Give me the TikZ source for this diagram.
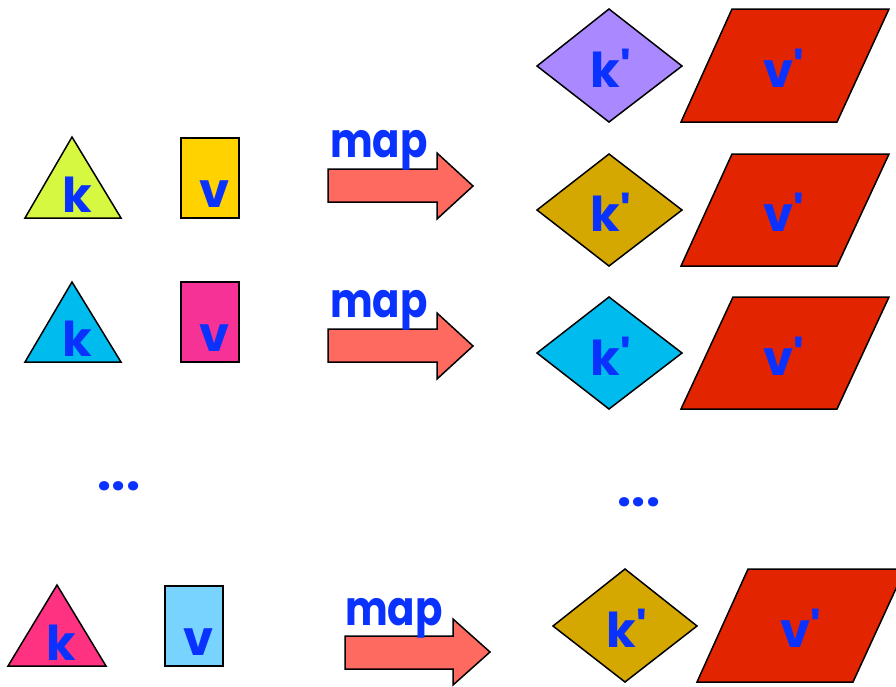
\documentclass[tikz,border=0pt]{standalone}
\usepackage{fontspec}
\setmainfont{Poppins}[Ligatures=TeXOff]
\newfontfamily\mapfont{Poppins}[Ligatures=TeXOff, FakeStretch=0.84]
\definecolor{tblue}{RGB}{10,50,255}
\definecolor{lime}{RGB}{214,248,64}
\definecolor{goldrect}{RGB}{255,210,0}
\definecolor{cyanc}{RGB}{0,188,238}
\definecolor{pinkrect}{RGB}{247,50,150}
\definecolor{pinktri}{RGB}{255,50,130}
\definecolor{lightblue}{RGB}{120,212,255}
\definecolor{arrowc}{RGB}{255,106,96}
\definecolor{lavender}{RGB}{170,136,255}
\definecolor{golddia}{RGB}{212,168,0}
\definecolor{redpar}{RGB}{227,36,0}
\begin{document}
\begin{tikzpicture}[x=1pt,y=-1pt,
  shp/.style={draw=black, line width=1.5pt, line join=miter},
  lbl/.style={text=tblue, font=\bfseries\fontsize{48}{48}\selectfont, inner sep=0pt, anchor=base},
  maplbl/.style={text=tblue, font=\mapfont\bfseries\fontsize{48}{48}\selectfont, inner sep=0pt, anchor=base},
  dots/.style={text=tblue, font=\bfseries\fontsize{50}{50}\selectfont, inner sep=0pt, anchor=base}]
\useasboundingbox (0,0) rectangle (896,686);
\clip (0,0) rectangle (896,686);
% ---- left column: triangles and rectangles
\path[shp, fill=lime] (72,137) -- (121,218) -- (25,218) -- cycle;
\path[shp, fill=goldrect] (181,138) rectangle (239,218);
\path[shp, fill=cyanc] (72,282) -- (121,362) -- (25,362) -- cycle;
\path[shp, fill=pinkrect] (181,282) rectangle (239,362);
\path[shp, fill=pinktri] (57,585) -- (106,666) -- (8,666) -- cycle;
\path[shp, fill=lightblue] (165,586) rectangle (223,666);
\node[lbl] (k1) at (77,212) {k};
\node[lbl] (v1) at (215,207) {v};
\node[lbl] (k2) at (77,356) {k};
\node[lbl] (v2) at (215,351) {v};
\node[lbl] (k4) at (61,660) {k};
\node[lbl] (v4) at (199,655) {v};
\node[dots] (d1) at (119,490) {...};
% ---- arrows
\path[shp, fill=arrowc] (328,169) -- (437,169) -- (437,153) -- (473,186) -- (437,219) -- (437,202) -- (328,202) -- cycle;
\path[shp, fill=arrowc] (328,329) -- (437,329) -- (437,313) -- (473,346) -- (437,379) -- (437,362) -- (328,362) -- cycle;
\path[shp, fill=arrowc] (345,636) -- (453,636) -- (453,619) -- (490,652) -- (453,685) -- (453,669) -- (345,669) -- cycle;
\node[maplbl] (m1) at (379,157) {map};
\node[maplbl] (m2) at (379,317) {map};
\node[maplbl] (m3) at (394,625) {map};
% ---- right column: diamonds and parallelograms
\path[shp, fill=lavender] (537,66) -- (609,9) -- (682,66) -- (609,122) -- cycle;
\path[shp, fill=redpar] (681,122) -- (732,9) -- (889,9) -- (837,122) -- cycle;
\path[shp, fill=golddia] (537,210) -- (609,154) -- (682,210) -- (609,266) -- cycle;
\path[shp, fill=redpar] (681,266) -- (732,154) -- (889,154) -- (837,266) -- cycle;
\path[shp, fill=cyanc] (537,353) -- (609,297) -- (682,353) -- (609,409) -- cycle;
\path[shp, fill=redpar] (681,409) -- (733,297) -- (889,297) -- (837,409) -- cycle;
\path[shp, fill=golddia] (553,626) -- (625,569) -- (697,626) -- (625,682) -- cycle;
\path[shp, fill=redpar] (697,682) -- (748,569) -- (905,569) -- (853,682) -- cycle;
\node[lbl] (kp1) at (611,87) {k'};
\node[lbl] (vp1) at (784,87) {v'};
\node[lbl] (kp2) at (611,231) {k'};
\node[lbl] (vp2) at (784,231) {v'};
\node[lbl] (kp3) at (611,375) {k'};
\node[lbl] (vp3) at (784,375) {v'};
\node[lbl] (kp4) at (627,647) {k'};
\node[lbl] (vp4) at (801,647) {v'};
\node[dots] (d2) at (639,506) {...};
\end{tikzpicture}
\end{document}
